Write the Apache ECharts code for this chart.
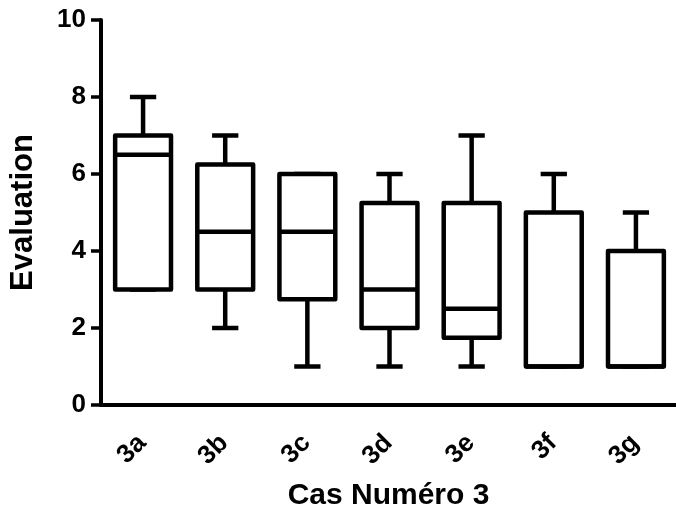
<!DOCTYPE html>
<html>
<head>
    <meta charset="utf-8" />
    <title>Cas Numéro 3</title>
    <script src="https://cdnjs.cloudflare.com/ajax/libs/echarts/6.0.0/echarts.min.js"></script>
    <style>
        body, html {
            margin: 0;
            padding: 0;
            background: #fff;
        }
        #chart {
            width: 676px;
            height: 517px;
        }
    </style>
</head>
<body>
<div id="chart"></div>

<script type="text/javascript">
    // 各组的五数概括 (min, Q1, median, Q3, max)
    var categories = ['3a', '3b', '3c', '3d', '3e', '3f', '3g'];
    var minVals    = [3, 2, 1, 1, 1, 1, 1];
    var q1Vals     = [3, 3, 2.75, 2, 1.75, 1, 1];
    var medianVals = [6.5, 4.5, 4.5, 3, 2.5, 1, 1];
    var q3Vals     = [7, 6.25, 6, 5.25, 5.25, 5, 4];
    var maxVals    = [8, 7, 6, 6, 7, 6, 5];
    var yTicks     = [0, 2, 4, 6, 8, 10];

    var fontFamily = '"Liberation Sans", Arial, sans-serif';
    var boxData = categories.map(function (c, i) {
        return [i, minVals[i], q1Vals[i], medianVals[i], q3Vals[i], maxVals[i]];
    });

    function renderBox(params, api) {
        var idx = api.value(0);
        var band = api.size([1, 0])[0];
        var half = band * 0.34;       // 箱体半宽
        var capHalf = band * 0.16;    // 须线端帽半宽
        var pMin = api.coord([idx, api.value(1)]);
        var pQ1 = api.coord([idx, api.value(2)]);
        var pMed = api.coord([idx, api.value(3)]);
        var pQ3 = api.coord([idx, api.value(4)]);
        var pMax = api.coord([idx, api.value(5)]);
        var x = pQ1[0] + 1;
        var st = { stroke: '#000', lineWidth: 4.5, fill: null };
        return {
            type: 'group',
            children: [
                { type: 'line', shape: { x1: x, y1: pQ3[1], x2: x, y2: pMax[1] }, style: st },
                { type: 'line', shape: { x1: x - capHalf, y1: pMax[1], x2: x + capHalf, y2: pMax[1] }, style: st },
                { type: 'line', shape: { x1: x, y1: pQ1[1], x2: x, y2: pMin[1] }, style: st },
                { type: 'line', shape: { x1: x - capHalf, y1: pMin[1], x2: x + capHalf, y2: pMin[1] }, style: st },
                { type: 'rect', shape: { x: x - half, y: pQ3[1], width: half * 2, height: pQ1[1] - pQ3[1] },
                  style: { stroke: '#000', lineWidth: 4.5, fill: '#fff', lineJoin: 'round' } },
                { type: 'line', shape: { x1: x - half, y1: pMed[1], x2: x + half, y2: pMed[1] }, style: st }
            ]
        };
    }

    var chart = echarts.init(document.getElementById('chart'));
    var option = {
        animation: false,
        grid: { left: 99, right: 0, top: 20, bottom: 112, containLabel: false },
        xAxis: {
            type: 'category',
            data: categories,
            boundaryGap: true,
            name: 'Cas Numéro 3',
            nameLocation: 'middle',
            nameGap: 76,
            nameTextStyle: { color: '#000', fontSize: 30, fontWeight: 'bold', fontFamily: fontFamily },
            axisLine: { lineStyle: { color: '#000', width: 4 } },
            axisTick: { alignWithLabel: true, length: 10, lineStyle: { color: '#000', width: 3.5 } },
            axisLabel: { rotate: 45, margin: 34, color: '#000', fontSize: 26, fontWeight: 'bold', fontFamily: fontFamily },
            splitLine: { show: false }
        },
        yAxis: {
            type: 'value',
            min: yTicks[0],
            max: yTicks[yTicks.length - 1],
            interval: 2,
            name: 'Evaluation',
            nameLocation: 'middle',
            nameGap: 62,
            nameTextStyle: { color: '#000', fontSize: 31, fontWeight: 'bold', fontFamily: fontFamily },
            axisLine: { show: true, lineStyle: { color: '#000', width: 4 } },
            axisTick: { show: true, length: 10, lineStyle: { color: '#000', width: 3.5 } },
            axisLabel: { margin: 15, color: '#000', fontSize: 26, fontWeight: 'bold', fontFamily: fontFamily },
            splitLine: { show: false }
        },
        series: [{
            type: 'custom',
            renderItem: renderBox,
            data: boxData,
            encode: { x: 0, y: [1, 2, 3, 4, 5] }
        }]
    };
    chart.setOption(option);
</script>
</body>
</html>
